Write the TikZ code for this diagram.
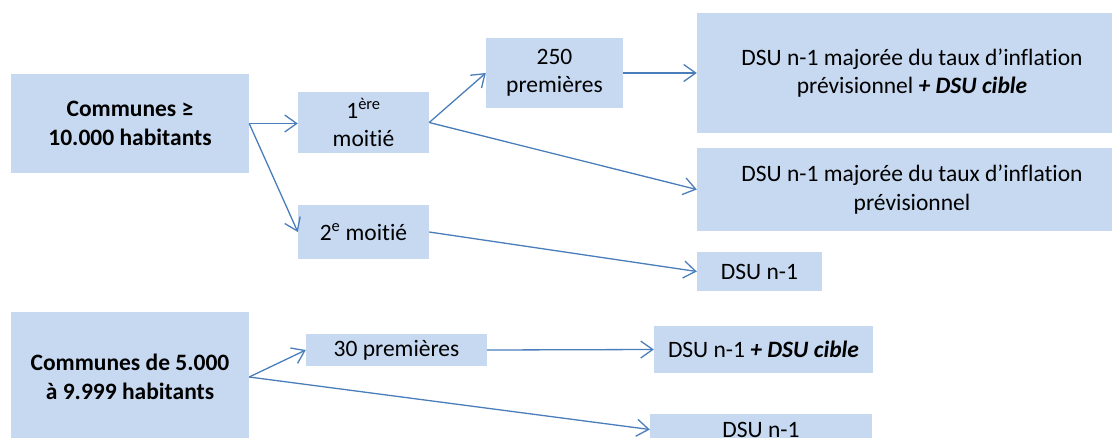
\documentclass[tikz,border=0pt]{standalone}
\usepackage{fontspec}
\setmainfont[Ligatures=NoCommon]{Carlito}
\usetikzlibrary{arrows.meta}
\definecolor{boxfill}{HTML}{C6D9F1}
\definecolor{arrowblue}{HTML}{4A7EBB}
\tikzset{
  box/.style={fill=boxfill, draw=none, inner sep=0pt, align=center,
    font=\fontsize{23.5}{28.5}\selectfont},
  conn/.style={draw=arrowblue, line width=1.3pt,
    -{Straight Barb[length=12pt,width=17pt,line width=1.3pt]}}
}
\begin{document}
\begin{tikzpicture}[x=1pt,y=-1pt]
\useasboundingbox (0,0) rectangle (1112,437);
\node[box, minimum width=238pt, minimum height=99pt] (c1) at (130,123.5)
  {\bfseries Communes ≥\\\bfseries 10.000 habitants};
\node[box, minimum width=131pt, minimum height=61pt] (m1) at (363.5,122.5)
  {1\textsuperscript{ère}\\moitié};
\node[box, minimum width=137pt, minimum height=70pt] (p250) at (554.5,73)
  {250\\premières};
\node[box, minimum width=430pt, minimum height=120pt] (b4) at (912,73)
  {DSU n-1 majorée du taux d’inflation\\prévisionnel \textbf{\textit{+ DSU cible}}};
\node[box, minimum width=430pt, minimum height=83pt] (b5) at (912,189.5)
  {DSU n-1 majorée du taux d’inflation\\prévisionnel};
\node[box, minimum width=125pt, minimum height=39pt] (b6) at (759.5,271.5)
  {DSU n-1};
\node[box, minimum width=131pt, minimum height=54pt] (m2) at (363.5,232)
  {2\textsuperscript{e} moitié};
\node[box, minimum width=238pt, minimum height=130pt] (c2) at (130,377)
  {\bfseries Communes de 5.000\\\bfseries à 9.999 habitants};
\node[box, minimum width=181pt, minimum height=32pt] (p30) at (396.5,350)
  {30 premières};
\node[box, minimum width=219pt, minimum height=47pt] (b10) at (763.5,349.5)
  {DSU n-1 \textbf{\textit{+ DSU cible}}};
\node[box, minimum width=222pt, minimum height=31pt] (b11) at (761,429.5)
  {DSU n-1};
\draw[conn] (c1.east) -- (c1.east -| m1.west);
\draw[conn] (c1.east) -- (m2.west);
\draw[conn] (m1.east) -- (p250.west);
\draw[conn] (m1.east) -- (b5.west);
\draw[conn] (p250.east) -- (b4.west);
\draw[conn] (m2.east) -- (b6.west);
\draw[conn] (c2.east) -- (p30.west);
\draw[conn] (c2.east) -- (b11.west);
\draw[conn] (p30.east) -- (b10.west);
\end{tikzpicture}
\end{document}
